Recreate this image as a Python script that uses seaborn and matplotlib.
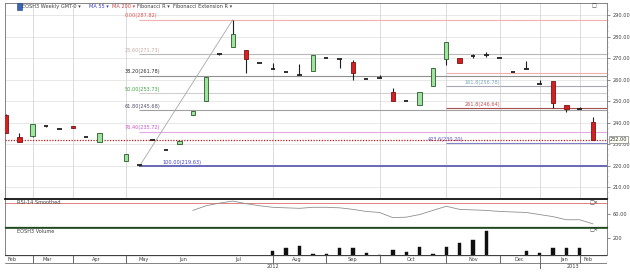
import numpy as np
import pandas as pd
import matplotlib
matplotlib.use("Agg")
import matplotlib.pyplot as plt
import matplotlib.transforms as mtransforms
from matplotlib.patches import Rectangle
import seaborn as sns

sns.set_theme(style="white")
plt.rcParams['font.family'] = ['DejaVu Sans']

# ---------------- data ----------------
week_index = list(range(45))
nan = np.nan
opens  = [243.5, 233.3, 233.7, 238.3, 237.0, 238.4, 233.3, 230.9, nan, 222.1,
          219.9, 232.0, 227.2, 230.2, 243.5, 250.0, 271.8, 275.1, 273.7, 267.7,
          264.9, 263.5, 262.1, 264.0, 270.0, 269.5, 268.1, 260.2, 260.7, 254.2,
          250.0, 248.1, 257.0, 269.5, 270.0, 271.2, 271.4, 270.0, 263.5, 264.9,
          257.9, 259.3, 248.1, 246.5, 240.2]
highs  = [243.8, 235.1, 239.5, 238.5, 237.2, 238.4, 233.5, 235.1, nan, 225.3,
          220.3, 232.2, 227.4, 231.2, 245.3, 261.2, 272.1, 287.82, 273.7, 267.9,
          267.7, 263.7, 267.2, 271.4, 270.2, 269.7, 269.1, 260.3, 262.1, 256.0,
          250.2, 254.2, 265.3, 277.4, 270.0, 271.9, 272.8, 270.2, 263.7, 268.6,
          259.8, 259.3, 248.1, 247.4, 242.6]
lows   = [235.0, 230.9, 233.5, 238.1, 236.8, 237.4, 233.1, 230.9, nan, 222.1,
          219.63, 231.8, 227.0, 230.2, 243.5, 250.0, 271.5, 275.1, 263.0, 267.5,
          264.9, 263.3, 262.1, 264.0, 269.8, 265.3, 259.8, 260.1, 260.7, 250.0,
          249.8, 248.1, 257.0, 266.7, 267.7, 269.8, 270.5, 269.8, 263.3, 264.9,
          257.9, 246.7, 244.9, 246.3, 232.0]
closes = [235.1, 230.9, 239.3, 238.3, 237.0, 237.4, 233.3, 235.1, nan, 225.3,
          220.1, 232.0, 227.2, 231.2, 245.3, 261.2, 272.0, 281.2, 269.5, 267.7,
          264.9, 263.5, 262.1, 271.4, 270.0, 269.5, 263.0, 260.2, 260.7, 250.0,
          250.0, 254.2, 265.3, 277.4, 267.7, 270.9, 271.4, 270.0, 263.5, 264.9,
          257.9, 249.1, 246.3, 246.5, 232.0]

volume_index = [20, 21, 22, 23, 24, 25, 26, 27, 28, 29, 30, 31, 32, 33, 34, 35, 36,
                39, 40, 41, 42, 43]
volume = [50, 85, 105, 10, 8, 85, 85, 22, 5, 62, 40, 95, 12, 95, 140, 170, 285,
          50, 22, 85, 85, 85]

rsi_index = list(range(14, 45))
rsi = [63, 67.5, 70, 72, 69.5, 67.5, 66, 65.5, 65, 66, 66, 65.5, 64, 62, 61, 56,
       56.5, 59, 63, 67, 64, 63.5, 63, 62, 61.5, 61, 59, 57, 54, 54, 50]

last_price = 232.00
fib_low, fib_high = 219.63, 287.82
fib_levels = [287.82, 271.73, 261.78, 253.73, 245.68, 235.72, 219.63]
fib_labels = ["0.00(287.82)", "23.60(271.73)", "38.20(261.78)", "50.00(253.73)",
              "61.80(245.68)", "76.40(235.72)", "100.00(219.63)"]
ext_levels = [263.0, 257.0, 246.7, 230.5]
ext_labels = ["", "161.8(256.78)", "261.8(246.64)", "423.6(230.20)"]

price_ticks = [210, 220, 230, 240, 250, 260, 270, 280, 290]
month_labels = ["Feb", "Mar", "Apr", "May", "Jun", "Jul", "Aug", "Sep", "Oct",
                "Nov", "Dec", "Jan", "Feb"]
year_labels = ["2012", "2013"]

# ---------------- layout helpers ----------------
W, H = 630, 275
XL = (-0.075, 45.05)

def rect(top, bottom, left=5, right=607):
    return [left / W, 1 - bottom / H, (right - left) / W, (bottom - top) / H]

fig = plt.figure(figsize=(6.3, 2.75), dpi=100)
fig.patch.set_facecolor('white')

FS = 3.6
ax = fig.add_axes(rect(3, 198))
ax_rsi = fig.add_axes(rect(199, 227))
ax_vol = fig.add_axes(rect(227.5, 255))
ax_band = fig.add_axes(rect(255, 269))

# ---------------- main price panel ----------------
df = pd.DataFrame({'i': week_index, 'open': opens, 'high': highs,
                   'low': lows, 'close': closes}).dropna()
body = (df.close - df.open).abs()
doji = body < 0.5
up = (df.close > df.open) & ~doji
down = (df.close < df.open) & ~doji

for y in price_ticks:
    ax.axhline(y, color='#e4e4e4', lw=0.6, zorder=0)
for xv in [2, 5, 9, 20, 28, 33, 37, 40, 43]:
    ax.axvline(xv, color='#d6d6d6', lw=0.6, zorder=0)

fib_text_colors = ['#e05050', '#c8a8a8', '#303030', '#40a040', '#505070', '#d050d0', '#4040c0']
fib_line_colors = ['#f4b0b0', '#b8b8b8', '#909090', '#cfcfcf', '#a0a0a0', '#e4a8e4', '#6868b8']
fib_lw = [0.8, 0.8, 0.8, 0.8, 0.8, 0.8, 1.4]
for lvl, lab, tc, lc, lw in zip(fib_levels, fib_labels, fib_text_colors, fib_line_colors, fib_lw):
    ax.hlines(lvl, 10, XL[1], color=lc, lw=lw, zorder=1)
    tx = 11.7 if lab.startswith("100") else 8.9
    ax.text(tx, lvl + 0.6, lab, color=tc, fontsize=FS, ha='left', va='bottom', zorder=2)

ext_line_colors = ['#f0b0b0', '#a8a8b4', '#a85050', '#8080c8']
ext_text_colors = ['#000000', '#78a8b8', '#c05050', '#5050c0']
for lvl, lab, lc, tc in zip(ext_levels, ext_labels, ext_line_colors, ext_text_colors):
    ax.hlines(lvl, 33, XL[1], color=lc, lw=0.8, zorder=1)
    if lab.startswith("423"):
        ax.text(34.3, lvl + 0.5, lab, color=tc, fontsize=FS, ha='right', va='bottom', zorder=2)
    elif lab:
        ax.text(34.4, lvl + 0.6, lab, color=tc, fontsize=FS, ha='left', va='bottom', zorder=2)

ax.plot([10, 17], [fib_low, fib_high], color='#a8a8a8', lw=0.6, zorder=2)
ax.axhline(last_price, color='#c01818', lw=0.9, ls=(0, (1, 1.2)), zorder=2)

ax.vlines(df.i, df.low, df.high, color='#202020', lw=0.8, zorder=3)
ax.bar(df.i[up], body[up], bottom=df.open[up], width=0.33, color='#9ee39e',
       edgecolor='#2a5a2a', lw=0.6, zorder=4)
ax.bar(df.i[down], body[down], bottom=df.close[down], width=0.33, color='#d42020',
       edgecolor='#801010', lw=0.6, zorder=4)
ax.hlines(df.close[doji], df.i[doji] - 0.17, df.i[doji] + 0.17, color='#202020',
          lw=1.3, zorder=4)

ax.set_xlim(*XL)
ax.set_ylim(204.9, 295.6)
ax.set_xticks([])
ax.yaxis.tick_right()
ax.set_yticks(price_ticks)
ax.set_yticklabels([f"{v:.2f}" for v in price_ticks])
ax.set_yticks(np.arange(205, 295, 2.5), minor=True)
ax.tick_params(axis='y', which='major', length=2, width=0.5, color='#606060',
               labelsize=FS, labelcolor='#404040', pad=2)
ax.tick_params(axis='y', which='minor', length=1, width=0.4, color='#909090')
for s in ['left', 'top', 'right']:
    ax.spines[s].set_color('#707070')
    ax.spines[s].set_linewidth(0.6)
ax.spines['bottom'].set_visible(False)
ax.set_xlabel('')
ax.set_ylabel('')

ax.annotate(f"{last_price:.2f}", xy=(1.0, last_price),
            xycoords=mtransforms.blended_transform_factory(ax.transAxes, ax.transData),
            xytext=(2.2, 0), textcoords='offset points', fontsize=FS, va='center',
            ha='left', color='#303030',
            bbox=dict(boxstyle='square,pad=0.15', fc='#fffff4', ec='#808080', lw=0.5),
            zorder=10, annotation_clip=False)
ax.text(44.1, 294.2, "\u25a1", fontsize=FS, color='#303030', ha='center', va='center')

# ---------------- RSI panel ----------------
sns.lineplot(x=rsi_index, y=rsi, ax=ax_rsi, color='#909090', lw=0.6)
ax_rsi.axhline(70, color='#e08080', lw=0.7, zorder=0)
ax_rsi.set_xlim(*XL)
ax_rsi.set_ylim(47, 74)
ax_rsi.set_xticks([])
ax_rsi.yaxis.tick_right()
ax_rsi.set_yticks([60])
ax_rsi.set_yticklabels(["60.00"])
ax_rsi.tick_params(axis='y', length=2, width=0.5, color='#606060', labelsize=FS,
                   labelcolor='#404040', pad=2)
ax_rsi.spines['top'].set_color('#101010')
ax_rsi.spines['top'].set_linewidth(1.3)
ax_rsi.spines['bottom'].set_color('#1e4a1e')
ax_rsi.spines['bottom'].set_linewidth(0.9)
for s in ['left', 'right']:
    ax_rsi.spines[s].set_color('#707070')
    ax_rsi.spines[s].set_linewidth(0.6)
ax_rsi.set_xlabel('')
ax_rsi.set_ylabel('')
ax_rsi.text(0.82, 70.2, "RSI-14 Smoothed", fontsize=FS, color='#404040', ha='left', va='center')
ax_rsi.text(44.1, 70.5, "\u25a1\u00d7", fontsize=FS, color='#303030', ha='center', va='center')

# ---------------- Volume panel ----------------
vdf = pd.DataFrame({'i': volume_index, 'vol': volume})
sns.barplot(data=vdf, x='i', y='vol', ax=ax_vol, native_scale=True, width=0.25,
            color='#101010', saturation=1, edgecolor='#101010', linewidth=0.3)
ax_vol.set_xlim(*XL)
ax_vol.set_ylim(0, 320)
ax_vol.set_xticks([])
ax_vol.yaxis.tick_right()
ax_vol.set_yticks([200])
ax_vol.set_yticklabels(["200"])
ax_vol.tick_params(axis='y', length=2, width=0.5, color='#606060', labelsize=FS,
                   labelcolor='#404040', pad=2)
ax_vol.spines['top'].set_color('#1e4a1e')
ax_vol.spines['top'].set_linewidth(0.6)
for s in ['left', 'right', 'bottom']:
    ax_vol.spines[s].set_color('#707070')
    ax_vol.spines[s].set_linewidth(0.6)
ax_vol.set_xlabel('')
ax_vol.set_ylabel('')
ax_vol.text(0.82, 275, "EOSH3 Volume", fontsize=FS, color='#404040', ha='left', va='center')
ax_vol.text(44.1, 290, "\u25a1\u00d7", fontsize=FS, color='#303030', ha='center', va='center')

# ---------------- date band ----------------
month_pos = [0.45, 3.1, 6.8, 10.3, 13.3, 17.4, 21.8, 26.0, 30.4, 35.0, 38.5, 41.8, 43.6]
year_pos = [20.0, 42.5]
ax_band.set_xlim(*XL)
ax_band.set_ylim(0, 1)
ax_band.axis('off')
ax_band.axhline(1.0, color='#404040', lw=0.9)
ax_band.axhline(0.43, color='#707070', lw=0.6)
ax_band.axhline(0.0, color='#707070', lw=0.6)
for xv in [2, 5, 9, 20, 24, 28, 33, 37, 40, 43]:
    ax_band.vlines(xv, 0.43, 1.0, color='#505050', lw=0.6)
ax_band.vlines(40, 0.0, 0.43, color='#505050', lw=0.6)
ax_band.vlines(XL[1], 0.0, 1.0, color='#707070', lw=0.6)
for p, lab in zip(month_pos, month_labels):
    ax_band.text(p, 0.71, lab, fontsize=FS, color='#404040', ha='center', va='center')
for p, lab in zip(year_pos, year_labels):
    ax_band.text(p, 0.2, lab, fontsize=FS, color='#404040', ha='center', va='center')

# ---------------- header ----------------
fig.patches.append(Rectangle((16.5 / W, 1 - 10 / H), 5 / W, 6.5 / H,
                             transform=fig.transFigure, fc='#3a64b4', ec='#1e3c80', lw=0.4))
header = [(22, "EOSH3 Weekly GMT-0 \u25be", '#404040'),
          (89, "MA 55 \u25be", '#3c3cc0'),
          (112, "MA 200 \u25be", '#d04040'),
          (137, "Fibonacci R \u25be", '#404040'),
          (173, "Fibonacci Extension R \u25be", '#404040')]
for px, txt, col in header:
    fig.text(px / W, 1 - 6.5 / H, txt, fontsize=FS, color=col, ha='left', va='center')

fig.savefig("out.png", dpi=100, facecolor='white')
